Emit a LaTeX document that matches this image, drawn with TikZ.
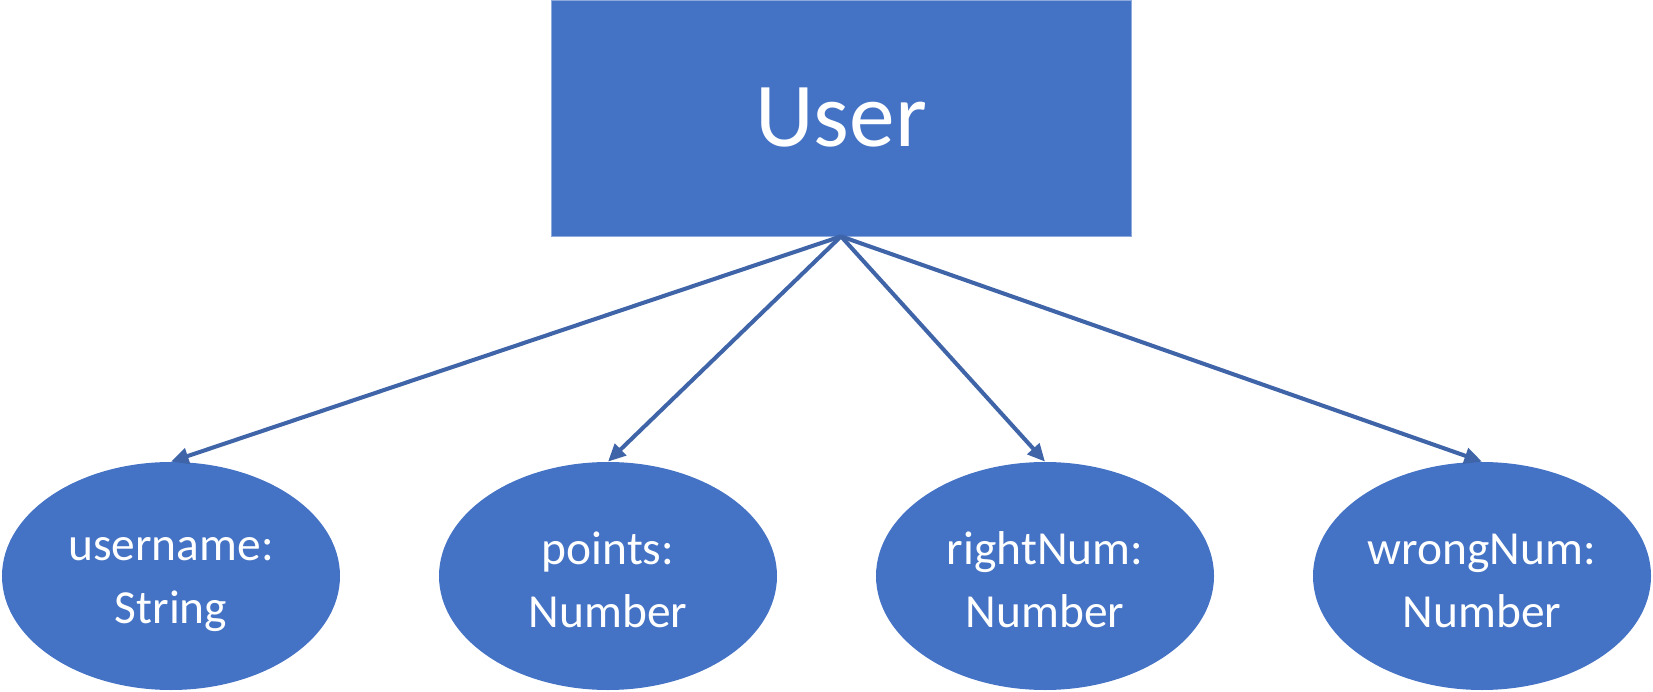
\documentclass[tikz,border=0pt]{standalone}
\usepackage{fontspec}
\setmainfont{Carlito}
\usetikzlibrary{shapes.geometric,arrows.meta}
\definecolor{boxblue}{HTML}{4472C4}
\definecolor{linkblue}{HTML}{3F64A8}
\newcommand{\fieldlabel}[2]{\rule{0pt}{23pt}#1\\#2}
\tikzset{
  entity/.style = {rectangle, fill = boxblue, draw = boxblue!60!white, line width = 0.4pt,
                   minimum width = 11.6cm, minimum height = 4.72cm, inner sep = 0pt,
                   text = white, font = \fontsize{52}{60}\selectfont},
  field/.style = {ellipse, fill = boxblue, minimum width = 6.76cm, minimum height = 4.56cm,
                  inner sep = 0pt, align = center, text = white,
                  font = \fontsize{27}{36}\selectfont},
  link/.style = {draw = linkblue, line width = 2.3pt,
                 -{Triangle[length = 10pt, width = 9pt]}}
}
\begin{document}
\begin{tikzpicture}
\useasboundingbox (0, 0) rectangle (33.06, 13.82);
\node[entity] (user) at (16.82, 11.46) {User};
\node[field] (username) at (3.42, 2.30) {\fieldlabel{username:}{String}};
\node[field] (points) at (12.16, 2.30) {\fieldlabel{points:}{Number}};
\node[field] (rightnum) at (20.90, 2.30) {\fieldlabel{rightNum:}{Number}};
\node[field] (wrongnum) at (29.64, 2.30) {\fieldlabel{wrongNum:}{Number}};
\draw[link] (user.south) -- (username.north);
\draw[link] (user.south) -- (points.north);
\draw[link] (user.south) -- (rightnum.north);
\draw[link] (user.south) -- (wrongnum.north);
\end{tikzpicture}
\end{document}
